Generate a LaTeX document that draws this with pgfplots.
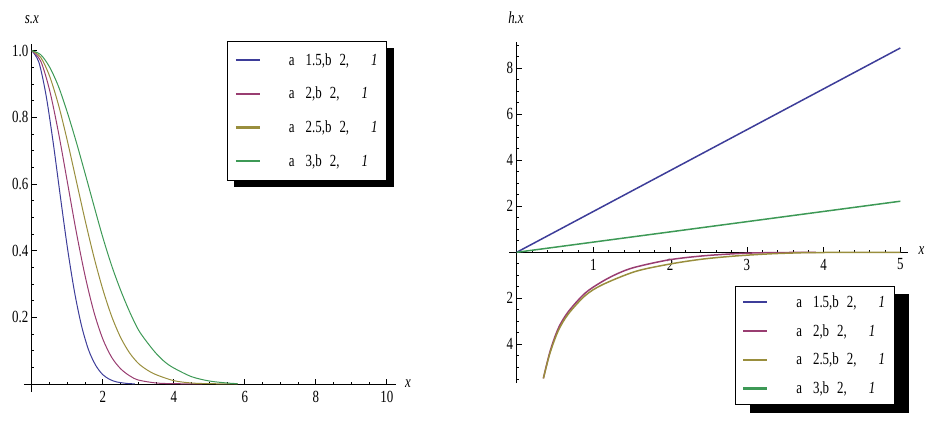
\documentclass[border=0pt]{standalone}
\usepackage{fontspec}
\setmainfont{Liberation Serif}[FakeStretch=0.76]
\usepackage{pgfplots}
\pgfplotsset{compat=1.18}
\usetikzlibrary{backgrounds}
\definecolor{mblue}{rgb}{0.24,0.24,0.6}
\definecolor{mmag}{rgb}{0.6,0.24,0.442}
\definecolor{molive}{rgb}{0.6,0.557,0.24}
\definecolor{mgreen}{rgb}{0.24,0.6,0.337}
\newcommand\f{\fontsize{17}{20}\selectfont}
\newcommand\entry[1]{a\hspace{11pt}#1,b\hspace{8pt}2,\hspace{22pt}\textit{1}}
\pgfplotsset{
 mstyle/.style={
  scale only axis, anchor=south west,
  axis lines=middle, axis line style={-, line width=0.8pt},
  tick align=inside, major tick length=5pt, minor tick length=2.5pt,
  every tick/.style={black, line width=0.7pt},
  /pgf/number format/assume math mode=true,
  tick label style={font=\f},
  legend cell align=left,
  legend image code/.code={\draw[##1, line width=2.2pt] (0pt,0pt) -- (24pt,0pt);},
 }
}
\begin{document}
\begin{tikzpicture}
\useasboundingbox (0,0) rectangle (939pt,423pt);
% ---------------- left panel: s(x)
\begin{axis}[mstyle, at={(24pt,31pt)}, width=372pt, height=348pt,
 xmin=-0.22, xmax=10.26, ymin=-0.024, ymax=1.02,
 xtick={2,4,6,8,10}, xticklabels={2,4,6,8,10},
 minor xtick={0.5,1,...,10},
 ytick={0.2,0.4,0.6,0.8,1.0}, yticklabels={0.2,0.4,0.6,0.8,1.0},
 minor ytick={0.05,0.1,...,1},
 xticklabel style={yshift=-4pt},
 xlabel={\f\itshape x}, ylabel={\f\itshape s.x},
 xlabel style={at={(axis description cs:1.032,0.023)}, anchor=center},
 ylabel style={at={(axis description cs:0.021,1.069)}, anchor=center},
 legend style={name=legL, at={(0.976,1.009)}, anchor=north east, draw=black, line width=0.8pt, fill=white,
   font=\f, inner xsep=7pt, inner ysep=10pt, row sep=16.5pt, column sep=26pt},
]
\addplot[mblue, line width=1pt, smooth] coordinates {
(0,1) (0.2,0.965) (0.4,0.867) (0.6,0.726) (0.8,0.566) (1.0,0.411) (1.2,0.278)
(1.4,0.175) (1.6,0.102) (1.8,0.056) (2.0,0.028) (2.2,0.0135) (2.4,0.006)
(2.7,0.0015) (2.9,0.0005)};
\addlegendentry{\entry{1.5}}
\addplot[mmag, line width=1pt, smooth] coordinates {
(0,1) (0.25,0.969) (0.5,0.882) (0.75,0.755) (1.0,0.607) (1.25,0.458) (1.5,0.325)
(1.75,0.216) (2.0,0.135) (2.25,0.080) (2.5,0.046) (2.75,0.025) (3.0,0.012)
(3.5,0.003) (4.0,0.001) (4.8,0.0003)};
\addlegendentry{\entry{2}}
\addplot[molive, line width=1pt, smooth] coordinates {
(0,1) (0.25,0.980) (0.5,0.924) (0.75,0.838) (1.0,0.730) (1.25,0.611) (1.5,0.492)
(1.75,0.381) (2.0,0.284) (2.25,0.203) (2.5,0.140) (2.75,0.094) (3.0,0.062)
(3.25,0.042) (3.5,0.028) (4.0,0.010) (4.5,0.003) (5.0,0.001) (5.8,0.0003)};
\addlegendentry{\entry{2.5}}
\addplot[mgreen, line width=1pt, smooth] coordinates {
(0,1) (0.25,0.988) (0.5,0.951) (0.75,0.893) (1.0,0.815) (1.25,0.727) (1.5,0.632)
(1.75,0.535) (2.0,0.440) (2.25,0.355) (2.5,0.282) (2.75,0.218) (3.0,0.163)
(3.25,0.125) (3.5,0.092) (3.75,0.066) (4.0,0.048) (4.5,0.022) (5.0,0.009)
(5.5,0.003) (5.8,0.001)};
\addlegendentry{\entry{3}}
\end{axis}
% ---------------- right panel: h(x)
\begin{axis}[mstyle, at={(509pt,40pt)}, width=399pt, height=341pt,
 xmin=-0.1, xmax=5.1, ymin=-5.68, ymax=9.14,
 xtick={1,2,3,4,5}, xticklabels={1,2,3,4,5},
 minor xtick={0.2,0.4,...,5},
 ytick={-4,-2,2,4,6,8}, yticklabels={4,2,2,4,6,8},
 minor ytick={-5.5,-5,...,9},
 xticklabel style={yshift=-3pt},
 xlabel={\f\itshape x}, ylabel={\f\itshape h.x},
 xlabel style={at={(axis description cs:1.034,0.388)}, anchor=center},
 ylabel style={at={(axis description cs:0.0175,1.070)}, anchor=center},
 legend style={name=legR, at={(0.966,0.284)}, anchor=north east, draw=black, line width=0.8pt, fill=white,
   font=\f, inner xsep=7pt, inner ysep=7pt, row sep=11.5pt, column sep=26pt},
]
\addplot[mblue, line width=1.5pt] coordinates {(0,0) (5,8.88)};
\addlegendentry{\entry{1.5}}
\addplot[mmag, line width=1.5pt, smooth] coordinates {
(0.348,-5.48) (0.434,-4.32) (0.543,-3.30) (0.673,-2.58) (0.89,-1.78) (1.11,-1.28)
(1.325,-0.91) (1.54,-0.65) (1.98,-0.33) (2.41,-0.16) (2.85,-0.06) (3.2,-0.02) (3.9,0)};
\addlegendentry{\entry{2}}
\addplot[molive, line width=1.5pt, smooth] coordinates {
(0.348,-5.48) (0.434,-4.38) (0.543,-3.40) (0.673,-2.68) (0.89,-1.89) (1.11,-1.42)
(1.54,-0.84) (1.98,-0.52) (2.41,-0.30) (2.85,-0.16) (3.28,-0.07) (3.6,-0.03) (3.9,-0.01) (5,0)};
\addlegendentry{\entry{2.5}}
\addplot[mgreen, line width=1.5pt] coordinates {(0,0) (5,2.22)};
\addlegendentry{\entry{3}}
\end{axis}
\begin{scope}[on background layer]
\fill[black] ([shift={(7pt,-7pt)}]legL.south west) rectangle ([shift={(7pt,-7pt)}]legL.north east);
\fill[black] ([shift={(15pt,-8pt)}]legR.south west) rectangle ([shift={(15pt,-8pt)}]legR.north east);
\end{scope}
\end{tikzpicture}
\end{document}
